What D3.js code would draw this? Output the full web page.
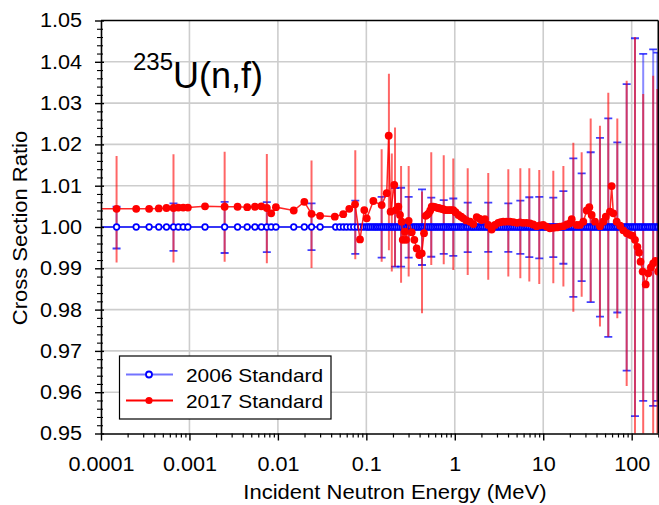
<!DOCTYPE html>
<html><head><meta charset="utf-8">
<script src="https://cdn.jsdelivr.net/npm/d3@7"></script>
<style>
body{margin:0;background:#fff}
svg{display:block}
text{font-family:"Liberation Sans",Arial,sans-serif;fill:#000}
</style>
</head><body><svg id="c" width="659" height="505"></svg>
<script>
// ---------- DATA ----------
const xTickVals = [0.0001, 0.001, 0.01, 0.1, 1, 10, 100];
const xTickLabels = ["0.0001", "0.001", "0.01", "0.1", "1", "10", "100"];
const yTickVals = [0.95, 0.96, 0.97, 0.98, 0.99, 1.00, 1.01, 1.02, 1.03, 1.04, 1.05];
const seriesNames = ["2006 Standard", "2017 Standard"];

// 2006 standard (ratio to itself)
const std2006E = [
  1e-5, 1.5e-4, 2.5e-4, 3.5e-4, 4.5e-4, 5.5e-4, 6.6e-4, 7.5e-4, 8.5e-4, 9.6e-4,
  1.5e-3, 2.5e-3, 3.5e-3, 4.5e-3, 5.5e-3, 6.5e-3, 7.5e-3, 8.4e-3, 9.5e-3, 0.0151,
  0.0199, 0.024, 0.030, 0.045, 0.05, 0.055, 0.06, 0.066, 0.072, 0.079,
  0.086, 0.093, 0.1, 0.105, 0.11, 0.116, 0.122, 0.128, 0.134, 0.141,
  0.148, 0.155, 0.163, 0.171, 0.18, 0.189, 0.198, 0.208, 0.218, 0.229,
  0.241, 0.253, 0.265, 0.279, 0.293, 0.307, 0.323, 0.339, 0.356, 0.373,
  0.392, 0.412, 0.432, 0.454, 0.476, 0.5, 0.525, 0.552, 0.579, 0.608,
  0.638, 0.67, 0.704, 0.739, 0.776, 0.815, 0.856, 0.898, 0.943, 0.99,
  1.04, 1.09, 1.15, 1.2, 1.26, 1.33, 1.39, 1.46, 1.54, 1.61,
  1.69, 1.78, 1.87, 1.96, 2.06, 2.16, 2.27, 2.38, 2.5, 2.63,
  2.76, 2.9, 3.04, 3.19, 3.35, 3.52, 3.7, 3.88, 4.08, 4.28,
  4.5, 4.72, 4.96, 5.2, 5.46, 5.74, 6.02, 6.33, 6.64, 6.97,
  7.32, 7.69, 8.07, 8.48, 8.9, 9.35, 9.81, 10.3, 10.8, 11.4,
  11.9, 12.5, 13.2, 13.8, 14.5, 15.2, 16.0, 16.8, 17.6, 18.5,
  19.4, 20.4, 21.4, 22.5, 23.6, 24.8, 26.0, 27.3, 28.7, 30.1,
  31.6, 33.2, 34.9, 36.6, 38.4, 40.4, 42.4, 44.5, 46.7, 49.1,
  51.5, 54.1, 56.8, 59.6, 62.6, 65.8, 69.0, 72.5, 76.1, 79.9,
  83.9, 88.1, 92.5, 97.2, 102, 107, 112, 118, 124, 130,
  137, 143, 151, 158, 166, 174, 183, 192, 200, 210
];
const std2006R = [
  1,1,1,1,1,1,1,1,1,1,
  1,1,1,1,1,1,1,1,1,1,
  1,1,1,1,1,1,1,1,1,1,
  1,1,1,1,1,1,1,1,1,1,
  1,1,1,1,1,1,1,1,1,1,
  1,1,1,1,1,1,1,1,1,1,
  1,1,1,1,1,1,1,1,1,1,
  1,1,1,1,1,1,1,1,1,1,
  1,1,1,1,1,1,1,1,1,1,
  1,1,1,1,1,1,1,1,1,1,
  1,1,1,1,1,1,1,1,1,1,
  1,1,1,1,1,1,1,1,1,1,
  1,1,1,1,1,1,1,1,1,1,
  1,1,1,1,1,1,1,1,1,1,
  1,1,1,1,1,1,1,1,1,1,
  1,1,1,1,1,1,1,1,1,1,
  1,1,1,1,1,1,1,1,1,1,
  1,1,1,1,1,1,1,1,1,1,
  1,1,1,1,1,1,1,1,1,1
];

// 2017 standard / 2006 standard
const std2017E = [
  1e-5, 1.5e-4, 2.5e-4, 3.5e-4, 4.5e-4, 5.5e-4, 6.6e-4, 7.5e-4, 8.5e-4, 9.6e-4,
  1.5e-3, 2.5e-3, 3.5e-3, 4.5e-3, 5.5e-3, 6.5e-3, 7.5e-3, 8.4e-3, 9.5e-3, 0.0151,
  0.0199, 0.024, 0.030, 0.044, 0.0548, 0.0641, 0.0745, 0.0848, 0.0948, 0.101,
  0.120, 0.149, 0.170, 0.179, 0.188, 0.207, 0.215, 0.230, 0.240, 0.251,
  0.258, 0.273, 0.281, 0.301, 0.326, 0.349, 0.371, 0.397, 0.423, 0.449,
  0.469, 0.490, 0.507, 0.528, 0.548, 0.572, 0.598, 0.625, 0.650, 0.680,
  0.710, 0.740, 0.775, 0.820, 0.870, 0.910, 0.962, 1.02, 1.10, 1.18,
  1.25, 1.35, 1.49, 1.62, 1.77, 1.90, 2.01, 2.19, 2.39, 2.61,
  2.85, 3.10, 3.30, 3.53, 3.85, 4.21, 4.60, 5.01, 5.45, 5.95,
  6.50, 7.08, 7.70, 8.43, 9.20, 10.0, 10.9, 11.9, 13.0, 14.2,
  15.5, 16.9, 18.5, 20.0, 21.0, 23.9, 26.0, 28.4, 31.0, 33.2,
  35.3, 38.5, 43.8, 47.8, 51.0, 56.8, 59.4, 62.0, 67.7, 74.0,
  80.4, 88.0, 95.7, 102, 109, 116, 121, 126, 133, 144,
  154, 165, 175, 186, 195, 199, 210
];
const std2017R = [
  1.0044, 1.0044, 1.0044, 1.0044, 1.0045, 1.0046, 1.0046, 1.0047, 1.0047, 1.0047,
  1.0050, 1.0049, 1.0049, 1.0048, 1.0049, 1.0050, 1.0046, 1.0033, 1.0048, 1.0040,
  1.0061, 1.0032, 1.0027, 1.0025, 1.0031, 1.0044, 1.0055, 0.9970, 1.0041, 1.0021,
  1.0063, 1.0053, 1.0082, 1.0221, 1.0037, 1.0102, 1.0041, 1.0049, 1.0029, 1.0013,
  0.9969, 0.9989, 0.9969, 1.0015, 0.9987, 0.9969, 0.9948, 0.9932, 0.9936, 0.9985,
  1.0027, 1.0030, 1.0033, 1.0040, 1.0049, 1.0049, 1.0048, 1.0047, 1.0046, 1.0045,
  1.0044, 1.0043, 1.0041, 1.0041, 1.0041, 1.0041, 1.0041, 1.0036, 1.0029, 1.0025,
  1.0021, 1.0016, 1.0013, 1.0007, 1.0024, 1.0020, 1.0017, 1.0019, 1.0005, 0.9994,
  1.0005, 1.0010, 1.0012, 1.0013, 1.0013, 1.0013, 1.0012, 1.0010, 1.0011, 1.0010,
  1.0010, 1.0009, 1.0006, 1.0002, 1.0004, 1.0005, 1.0001, 0.9997, 0.9998, 0.9999,
  1.0001, 1.0002, 1.0006, 1.0009, 1.0019, 1.0005, 1.0005, 1.0013, 1.0040, 1.0048,
  1.0029, 1.0013, 1.0002, 1.0013, 1.0025, 1.0037, 1.0099, 1.0033, 1.0013, 1.0003,
  0.9992, 0.9985, 0.9981, 0.9979, 0.9969, 0.9952, 0.9938, 0.9916, 0.9892, 0.9861,
  0.9888, 0.9902, 0.9912, 0.9918, 0.9916, 0.9892, 0.9900
];

// uncertainty bands (ratio limits)
const err2006E = [1.5e-4, 6.6e-4, 2.5e-3, 7.5e-3, 0.024, 0.075, 0.149, 0.211, 0.247, 0.301,
  0.426, 0.542, 0.750, 0.962, 1.40, 2.39, 4.03, 5.51, 6.96, 9.02,
  13.0, 16.9, 21.9, 27.2, 34.4, 43.8, 54.4, 68.8, 87.8, 109, 135, 175, 195];
const err2006Hi = [1.0049, 1.0057, 1.0061, 1.0060, 1.0057, 1.0064, 1.0073, 1.0094, 1.0095, 1.0073,
  1.0091, 1.0071, 1.0065, 1.0069, 1.0059, 1.0059, 1.0057, 1.0064, 1.0072, 1.0073,
  1.0071, 1.0087, 1.0166, 1.0130, 1.0181, 1.0216, 1.0263, 1.0205, 1.0346, 1.0457, 1.0419, 1.0430, 1.0422];
const err2006Lo = [0.9948, 0.9942, 0.9937, 0.9939, 0.9944, 0.9935, 0.9926, 0.9904, 0.9904, 0.9926,
  0.9908, 0.9928, 0.9935, 0.9930, 0.9939, 0.9940, 0.9940, 0.9935, 0.9927, 0.9924,
  0.9927, 0.9911, 0.9831, 0.9869, 0.9818, 0.9783, 0.9734, 0.9793, 0.9652, 0.9542, 0.9579, 0.9567, 0.9579];

const err2017E = [1.5e-4, 6.6e-4, 2.5e-3, 7.5e-3, 0.024, 0.075, 0.149, 0.180, 0.194, 0.211,
  0.247, 0.301, 0.426, 0.542, 0.750, 0.962, 1.40, 2.39, 4.03, 5.51,
  6.96, 9.02, 13.0, 16.9, 21.9, 27.2, 34.4, 43.8, 54.4, 68.8,
  87.8, 109, 135, 175, 195];
const err2017Hi = [1.0172, 1.0176, 1.0182, 1.0177, 1.0161, 1.0186, 1.0188, 1.0371, 1.0178, 1.0241,
  1.0148, 1.0148, 1.0086, 1.0181, 1.0174, 1.0166, 1.0142, 1.0131, 1.0140, 1.0142,
  1.0142, 1.0138, 1.0136, 1.0148, 1.0204, 1.0181, 1.0263, 1.0245, 1.0325, 1.0263,
  1.0354, 1.0460, 1.0322, 1.0366, 1.0334];
const err2017Lo = [0.9914, 0.9914, 0.9916, 0.9912, 0.9901, 0.9922, 0.9916, 0.9944, 0.9892, 0.9904,
  0.9865, 0.9880, 0.9791, 0.9908, 0.9910, 0.9896, 0.9884, 0.9872, 0.9880, 0.9876,
  0.9868, 0.9862, 0.9864, 0.9856, 0.9795, 0.9831, 0.9819, 0.9759, 0.9734, 0.9779,
  0.9615, 0.93, 0.93, 0.93, 0.93];

// ---------- CHART ----------
const P = {l: 101, r: 658.3, t: 20.5, b: 433.5};
const x = d3.scaleLog().domain([1e-4, 200]).range([P.l, P.r]);
const y = d3.scaleLinear().domain([0.95, 1.05]).range([P.b, P.t]);
const svg = d3.select('#c');
const FONT = '"Liberation Sans",Arial,sans-serif';

// widen glyphs slightly, as in the reference rendering
function stretch(sel, f) {
  sel.each(function () {
    const w = this.getComputedTextLength();
    d3.select(this).attr('textLength', w * f).attr('lengthAdjust', 'spacingAndGlyphs');
  });
}

svg.append('defs').append('clipPath').attr('id', 'clip')
  .append('rect').attr('x', P.l).attr('y', P.t).attr('width', P.r - P.l).attr('height', P.b - P.t);

// grid
const grid = svg.append('g').attr('stroke', '#cdcdcd').attr('stroke-width', 1.6);
grid.selectAll('.vg').data(xTickVals.slice(1)).join('line')
  .attr('x1', d => x(d)).attr('x2', d => x(d)).attr('y1', P.t).attr('y2', P.b);
grid.selectAll('.hg').data(yTickVals.slice(1, -1)).join('line')
  .attr('y1', d => y(d)).attr('y2', d => y(d)).attr('x1', P.l).attr('x2', P.r);

const plot = svg.append('g').attr('clip-path', 'url(#clip)');

// blue error bars
const e06 = err2006E.map((e, i) => ({e, lo: err2006Lo[i], hi: err2006Hi[i]}));
const gb = plot.append('g');
gb.selectAll('line.v').data(e06).join('line').attr('class', 'v')
  .attr('x1', d => x(d.e)).attr('x2', d => x(d.e)).attr('y1', d => y(d.lo)).attr('y2', d => y(d.hi))
  .attr('stroke', 'rgba(40,40,255,0.55)').attr('stroke-width', 2);
['lo', 'hi'].forEach(k => {
  gb.selectAll('line.c' + k).data(e06).join('line').attr('class', 'c' + k)
    .attr('x1', d => x(d.e) - 4).attr('x2', d => x(d.e) + 4).attr('y1', d => y(d[k])).attr('y2', d => y(d[k]))
    .attr('stroke', 'rgba(0,0,255,0.75)').attr('stroke-width', 1.8);
});

// red error bars
const e17 = err2017E.map((e, i) => ({e, lo: err2017Lo[i], hi: err2017Hi[i]}));
plot.append('g').selectAll('line').data(e17).join('line')
  .attr('x1', d => x(d.e)).attr('x2', d => x(d.e)).attr('y1', d => y(d.lo)).attr('y2', d => y(d.hi))
  .attr('stroke', 'rgba(255,0,0,0.6)').attr('stroke-width', 2);

// 2006 series
const s06 = std2006E.map((e, i) => ({e, r: std2006R[i]}));
const line = d3.line().x(d => x(d.e)).y(d => y(d.r));
plot.append('path').datum(s06).attr('d', line).attr('fill', 'none')
  .attr('stroke', '#0000ff').attr('stroke-width', 1.5);
plot.append('g').selectAll('circle').data(s06).join('circle')
  .attr('cx', d => x(d.e)).attr('cy', d => y(d.r)).attr('r', 2.8)
  .attr('fill', '#fff').attr('stroke', '#0000ff').attr('stroke-width', 1.7);

// 2017 series
const s17 = std2017E.map((e, i) => ({e, r: std2017R[i]}));
plot.append('path').datum(s17).attr('d', line).attr('fill', 'none')
  .attr('stroke', 'rgba(255,0,0,0.85)').attr('stroke-width', 1.5);
plot.append('g').selectAll('circle').data(s17).join('circle')
  .attr('cx', d => x(d.e)).attr('cy', d => y(d.r)).attr('r', 3.9).attr('fill', '#ff0000');

// frame
const frame = svg.append('g').attr('stroke', '#000').attr('stroke-width', 1.6);
frame.append('line').attr('x1', P.l).attr('x2', P.r).attr('y1', P.t).attr('y2', P.t);
frame.append('line').attr('x1', P.r).attr('x2', P.r).attr('y1', P.t).attr('y2', P.b);

// x axis
const xMinor = [];
xTickVals.forEach(v => { for (let k = 2; k <= 9; k++) { const t = v * k; if (t <= 200) xMinor.push(t); } });
const fontSize = 20;
const gx = svg.append('g').attr('transform', `translate(0,${P.b})`)
  .call(d3.axisBottom(x).tickValues(xTickVals).tickFormat((d, i) => xTickLabels[i]).tickSize(7).tickPadding(16).tickSizeOuter(0));
gx.select('.domain').attr('stroke', '#000').attr('stroke-width', 1.6);
gx.selectAll('.tick line').attr('stroke', '#000').attr('stroke-width', 1.4);
gx.selectAll('.tick text').attr('font-size', fontSize).attr('font-family', FONT).call(stretch, 1.08);
const gxm = svg.append('g').attr('transform', `translate(0,${P.b})`)
  .call(d3.axisBottom(x).tickValues(xMinor).tickFormat('').tickSize(4).tickSizeOuter(0));
gxm.select('.domain').remove();
gxm.selectAll('.tick line').attr('stroke', '#000').attr('stroke-width', 1.2);

// y axis
const yMinor = d3.range(0, 51).map(i => 0.95 + i * 0.002).filter((v, i) => i % 5 !== 0);
const gy = svg.append('g').attr('transform', `translate(${P.l},0)`)
  .call(d3.axisLeft(y).tickValues(yTickVals).tickFormat(d3.format('.2f')).tickSize(6).tickPadding(13).tickSizeOuter(0));
gy.select('.domain').attr('stroke', '#000').attr('stroke-width', 1.6);
gy.selectAll('.tick line').attr('stroke', '#000').attr('stroke-width', 1.4).attr('x2', -6).attr('x1', 3);
gy.selectAll('.tick text').attr('font-size', fontSize).attr('font-family', FONT).call(stretch, 1.08);
const gym = svg.append('g').attr('transform', `translate(${P.l},0)`)
  .call(d3.axisLeft(y).tickValues(yMinor).tickFormat('').tickSize(4).tickSizeOuter(0));
gym.select('.domain').remove();
gym.selectAll('.tick line').attr('stroke', '#000').attr('stroke-width', 1.1).attr('x1', 2);

// axis titles
svg.append('text').attr('x', 395).attr('y', 499).attr('text-anchor', 'middle')
  .attr('font-size', 20).text('Incident Neutron Energy (MeV)').call(stretch, 1.1);
svg.append('text').attr('transform', 'translate(27,228) rotate(-90)').attr('text-anchor', 'middle')
  .attr('font-size', 20).text('Cross Section Ratio').call(stretch, 1.1);

// reaction label
const lbl = svg.append('text').attr('x', 133).attr('y', 88);
lbl.append('tspan').attr('font-size', 24).attr('dy', -18).text('235');
lbl.append('tspan').attr('font-size', 36).attr('dy', 18).text('U(n,f)');

// legend
const lg = svg.append('g');
lg.append('rect').attr('x', 119.5).attr('y', 356).attr('width', 211.5).attr('height', 63)
  .attr('fill', '#fff').attr('stroke', '#000').attr('stroke-width', 1.2);
const legendRows = [
  {name: seriesNames[0], y: 374.5, line: 'rgba(40,40,255,0.65)', fill: '#fff', stroke: '#0000ff', r: 3},
  {name: seriesNames[1], y: 400.5, line: '#ff0000', fill: '#ff0000', stroke: 'none', r: 3.6}
];
legendRows.forEach(d => {
  lg.append('line').attr('x1', 126).attr('x2', 173).attr('y1', d.y).attr('y2', d.y)
    .attr('stroke', d.line).attr('stroke-width', 1.8);
  lg.append('circle').attr('cx', 149).attr('cy', d.y).attr('r', d.r)
    .attr('fill', d.fill).attr('stroke', d.stroke).attr('stroke-width', 1.8);
  lg.append('text').attr('x', 186).attr('y', d.y + 7).attr('font-size', 19).text(d.name).call(stretch, 1.1);
});
</script>
</body></html>
